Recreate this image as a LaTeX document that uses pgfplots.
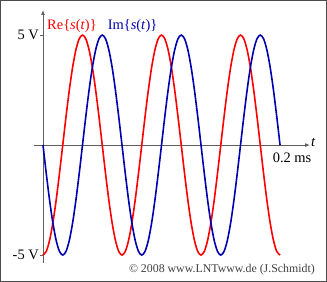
\documentclass[border=0pt]{standalone}
\usepackage{pgfplots}
\pgfplotsset{compat=1.18}
\usepackage{pgfplotstable}
\usetikzlibrary{arrows.meta}
\usepackage{fontspec}
\setmainfont{Liberation Serif}
\definecolor{lntred}{RGB}{255,0,0}
\definecolor{lntblue}{RGB}{0,0,175}
\definecolor{axgray}{RGB}{95,95,95}

% k = time index, 72 steps = 0.2 ms
\pgfplotstableread{
k re im
0 -5 0
1 -4.830 -1.294
2 -4.330 -2.5
3 -3.536 -3.536
4 -2.5 -4.330
5 -1.294 -4.830
6 0 -5
7 1.294 -4.830
8 2.5 -4.330
9 3.536 -3.536
10 4.330 -2.5
11 4.830 -1.294
12 5 0
13 4.830 1.294
14 4.330 2.5
15 3.536 3.536
16 2.5 4.330
17 1.294 4.830
18 0 5
19 -1.294 4.830
20 -2.5 4.330
21 -3.536 3.536
22 -4.330 2.5
23 -4.830 1.294
24 -5 0
25 -4.830 -1.294
26 -4.330 -2.5
27 -3.536 -3.536
28 -2.5 -4.330
29 -1.294 -4.830
30 0 -5
31 1.294 -4.830
32 2.5 -4.330
33 3.536 -3.536
34 4.330 -2.5
35 4.830 -1.294
36 5 0
37 4.830 1.294
38 4.330 2.5
39 3.536 3.536
40 2.5 4.330
41 1.294 4.830
42 0 5
43 -1.294 4.830
44 -2.5 4.330
45 -3.536 3.536
46 -4.330 2.5
47 -4.830 1.294
48 -5 0
49 -4.830 -1.294
50 -4.330 -2.5
51 -3.536 -3.536
52 -2.5 -4.330
53 -1.294 -4.830
54 0 -5
55 1.294 -4.830
56 2.5 -4.330
57 3.536 -3.536
58 4.330 -2.5
59 4.830 -1.294
60 5 0
61 4.830 1.294
62 4.330 2.5
63 3.536 3.536
64 2.5 4.330
65 1.294 4.830
66 0 5
67 -1.294 4.830
68 -2.5 4.330
69 -3.536 3.536
70 -4.330 2.5
71 -4.830 1.294
72 -5 0
}\sig

\begin{document}
\begin{tikzpicture}
\begin{axis}[
  at={(0,0)}, anchor=south west,
  scale only axis, width=276bp, height=253bp,
  xmin=-2.73, xmax=81.1, ymin=-5.36, ymax=6.14,
  axis lines=middle,
  axis line style={axgray, line width=0.8bp, -{Latex[length=5bp,width=4bp]}},
  xtick={72}, xticklabels={0.2 ms},
  x tick style={draw=none},
  xticklabel style={anchor=north, xshift=12bp, yshift=-1bp},
  ytick={-5,5}, yticklabels={-5 V, 5 V},
  y tick style={axgray, line width=0.8bp},
  tick align=outside, major tick length=3bp,
  yticklabel style={anchor=east, inner sep=1bp},
  tick label style={font=\fontsize{14.5}{16}\selectfont},
  clip=false,
]
\addplot[lntred, line width=1.6bp, smooth] table[x=k, y=re] {\sig};
\addplot[lntblue, line width=1.6bp, smooth] table[x=k, y=im] {\sig};
\node[lntred, font=\fontsize{14.5}{16}\selectfont] at (axis cs:8.8,5.41) {Re\{\textit{s}(\textit{t})\}};
\node[lntblue, font=\fontsize{14.5}{16}\selectfont] at (axis cs:27.2,5.41) {Im\{\textit{s}(\textit{t})\}};
\node[anchor=west, font=\fontsize{14.5}{16}\selectfont, inner sep=1bp] at (axis cs:81.1,0.1) {\textit{t}};
\end{axis}
\node[anchor=east, black!75, font=\fontsize{11.9}{13}\selectfont, inner sep=0pt] at (281bp,-7bp) {\textcopyright\ 2008 www.LNTwww.de (J.Schmidt)};
\draw[black!70, line width=1bp] (-33.5bp,-18.5bp) rectangle (292.5bp,262.5bp);
\end{tikzpicture}
\end{document}
